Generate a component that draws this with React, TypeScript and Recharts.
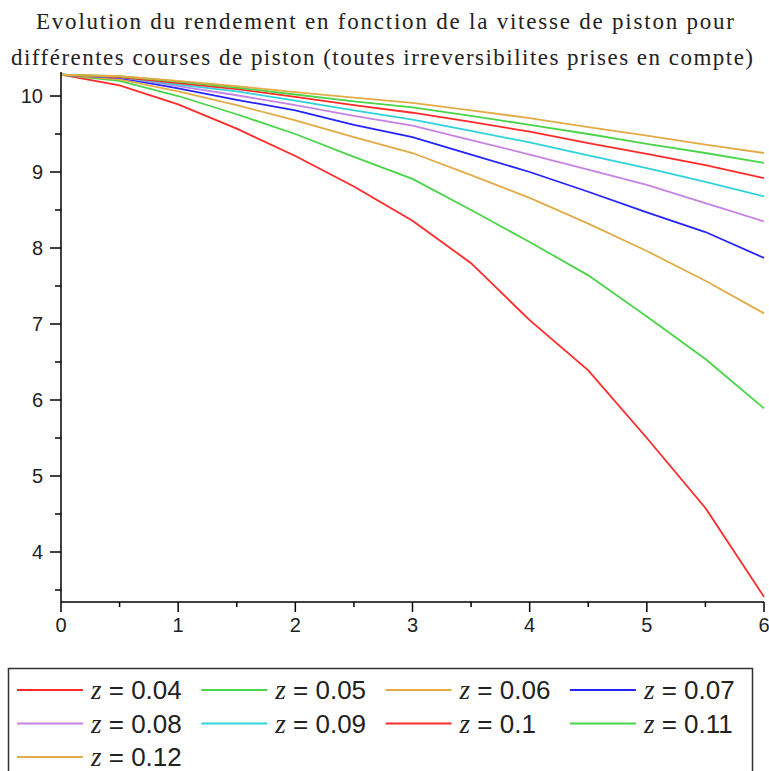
import { LineChart, Line, XAxis, YAxis } from "recharts";

// piston speed (x axis)
const SPEEDS = [0, 0.5, 1, 1.5, 2, 2.5, 3, 3.5, 4, 4.5, 5, 5.5, 6];

// efficiency per stroke z
const Z004 = [10.28, 10.14, 9.89, 9.57, 9.21, 8.81, 8.36, 7.8, 7.05, 6.39, 5.5, 4.58, 3.41];
const Z005 = [10.28, 10.2, 10.0, 9.76, 9.5, 9.2, 8.91, 8.5, 8.08, 7.64, 7.1, 6.54, 5.89];
const Z006 = [10.28, 10.22, 10.06, 9.88, 9.68, 9.46, 9.25, 8.96, 8.66, 8.32, 7.96, 7.57, 7.14];
const Z007 = [10.28, 10.24, 10.1, 9.95, 9.81, 9.62, 9.46, 9.23, 9.0, 8.74, 8.47, 8.21, 7.87];
const Z008 = [10.28, 10.25, 10.13, 10.01, 9.88, 9.74, 9.61, 9.42, 9.23, 9.03, 8.83, 8.59, 8.35];
const Z009 = [10.28, 10.25, 10.15, 10.06, 9.94, 9.81, 9.69, 9.54, 9.39, 9.22, 9.05, 8.87, 8.68];
const Z010 = [10.28, 10.25, 10.17, 10.09, 9.99, 9.88, 9.78, 9.66, 9.53, 9.38, 9.24, 9.09, 8.92];
const Z011 = [10.28, 10.26, 10.19, 10.11, 10.02, 9.93, 9.85, 9.74, 9.62, 9.5, 9.37, 9.25, 9.12];
const Z012 = [10.28, 10.26, 10.2, 10.13, 10.05, 9.98, 9.91, 9.81, 9.71, 9.59, 9.48, 9.36, 9.25];

const Z_LABELS = ["0.04", "0.05", "0.06", "0.07", "0.08", "0.09", "0.1", "0.11", "0.12"];
const SERIES = [Z004, Z005, Z006, Z007, Z008, Z009, Z010, Z011, Z012];
const COLORS = [
  "#ff2a2a",
  "#4ad44a",
  "#e2ab45",
  "#2424ff",
  "#c683e4",
  "#2ed3dc",
  "#ff2a2a",
  "#4ad44a",
  "#e2ab45",
];

const X_TICKS = [0, 0.5, 1, 1.5, 2, 2.5, 3, 3.5, 4, 4.5, 5, 5.5, 6];
const Y_TICKS = [3.5, 4, 4.5, 5, 5.5, 6, 6.5, 7, 7.5, 8, 8.5, 9, 9.5, 10];

const TITLE_1 = "Evolution du rendement en fonction de la vitesse de piston pour";
const TITLE_2 =
  "différentes courses de piston (toutes irreversibilites prises en compte)";

const data = SPEEDS.map((x, i) => {
  const row: Record<string, number> = { x };
  SERIES.forEach((s, k) => {
    row[`s${k}`] = s[i];
  });
  return row;
});

const TICK_FONT = "'Liberation Sans', Arial, sans-serif";
const TITLE_FONT = "'Liberation Serif', 'Times New Roman', serif";

function XTick({ x, y, payload }: any) {
  const major = Number.isInteger(payload.value);
  return (
    <g>
      <line x1={x} x2={x} y1={y} y2={y + (major ? 10 : 5)} stroke="#000" strokeWidth={1.5} />
      {major && (
        <text x={x} y={y + 30} textAnchor="middle" fontSize={20} fontFamily={TICK_FONT} fill="#222">
          {payload.value}
        </text>
      )}
    </g>
  );
}

function YTick({ x, y, payload }: any) {
  const major = Number.isInteger(payload.value);
  return (
    <g>
      <line x1={x - (major ? 11 : 6)} x2={x} y1={y} y2={y} stroke="#000" strokeWidth={1.5} />
      {major && (
        <text x={x - 18} y={y + 7} textAnchor="end" fontSize={20} fontFamily={TICK_FONT} fill="#222">
          {payload.value}
        </text>
      )}
    </g>
  );
}

function Legend() {
  return (
    <svg width={769} height={111} style={{ position: "absolute", left: 0, top: 660 }}>
      <rect x={8.5} y={8.5} width={744} height={130} fill="none" stroke="#333" strokeWidth={1.5} />
      {Z_LABELS.map((label, i) => {
        const col = i % 4;
        const row = Math.floor(i / 4);
        const x0 = 17 + col * 184.3;
        const cy = 30 + row * 33.5;
        return (
          <g key={label}>
            <line x1={x0} x2={x0 + 66} y1={cy} y2={cy} stroke={COLORS[i]} strokeWidth={2} />
            <text x={x0 + 74} y={cy + 9} fontSize={26} fill="#222" fontFamily={TICK_FONT}>
              <tspan fontFamily={TITLE_FONT} fontStyle="italic" fontSize={27}>
                z
              </tspan>
              {` = ${label}`}
            </text>
          </g>
        );
      })}
    </svg>
  );
}

export default function App() {
  return (
    <div
      style={{
        position: "fixed",
        left: 0,
        top: 0,
        width: 769,
        height: 771,
        overflow: "hidden",
        background: "#fff",
      }}
    >
      <svg width={769} height={80} style={{ position: "absolute", left: 0, top: 0 }}>
        <text
          x={385}
          y={29}
          textAnchor="middle"
          fontSize={23}
          fontFamily={TITLE_FONT}
          fill="#222"
          textLength={698}
          lengthAdjust="spacing"
        >
          {TITLE_1}
        </text>
        <text
          x={382}
          y={65}
          textAnchor="middle"
          fontSize={23}
          fontFamily={TITLE_FONT}
          fill="#222"
          textLength={742}
          lengthAdjust="spacing"
        >
          {TITLE_2}
        </text>
      </svg>
      <div style={{ position: "absolute", left: 0, top: 0 }}>
        <LineChart width={769} height={660} data={data} margin={{ top: 72, right: 5, bottom: 28, left: 21 }}>
          <XAxis
            dataKey="x"
            type="number"
            domain={[0, 6]}
            ticks={X_TICKS}
            interval={0}
            height={30}
            tickSize={0}
            tickMargin={0}
            tickLine={false}
            axisLine={{ stroke: "#000", strokeWidth: 1.5 }}
            tick={<XTick />}
          />
          <YAxis
            type="number"
            domain={[3.342, 10.316]}
            allowDataOverflow
            ticks={Y_TICKS}
            interval={0}
            width={40}
            tickSize={0}
            tickMargin={0}
            tickLine={false}
            axisLine={{ stroke: "#000", strokeWidth: 1.5 }}
            tick={<YTick />}
          />
          {SERIES.map((_, k) => (
            <Line
              key={k}
              type="linear"
              dataKey={`s${k}`}
              stroke={COLORS[k]}
              strokeWidth={1.8}
              dot={false}
              activeDot={false}
              isAnimationActive={false}
            />
          ))}
        </LineChart>
      </div>
      <Legend />
    </div>
  );
}
